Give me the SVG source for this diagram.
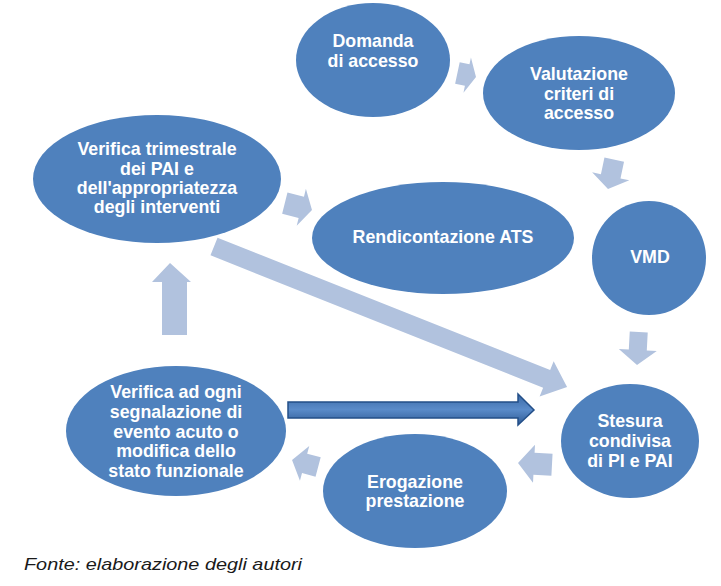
<svg xmlns="http://www.w3.org/2000/svg" width="721" height="586" viewBox="0 0 721 586">
<style>
.node{fill:#4f81bd;}
.lbl{font-family:"Liberation Sans",Arial,sans-serif;font-weight:bold;font-size:17.8px;fill:#ffffff;text-anchor:middle;}
.arr{fill:#b1c2de;}
.cap{font-family:"Liberation Sans",Arial,sans-serif;font-style:italic;font-size:17px;fill:#1a1a1a;}
</style>
<defs>
<linearGradient id="darkg" x1="0" y1="0" x2="0" y2="1">
<stop offset="0" stop-color="#3a69a6"/>
<stop offset="0.5" stop-color="#5a8bc9"/>
<stop offset="1" stop-color="#2f5b95"/>
</linearGradient>
</defs>
<rect width="721" height="586" fill="#ffffff"/>

<g id="connectors">
<polygon class="arr" transform="translate(467.2,75.1) rotate(12)" points="-10,-11 0,-11 0,-18 9,0 0,18 0,11 -10,11"/>
<polygon class="arr" transform="translate(610.7,176.3) rotate(102)" points="-17,-10 0,-10 0,-19 13,0 0,19 0,10 -17,10"/>
<polygon class="arr" transform="translate(637.8,350) rotate(93)" points="-18,-9 0,-9 0,-19 15,0 0,19 0,9 -18,9"/>
<polygon class="arr" transform="translate(534,463.8) rotate(183)" points="-18,-11 0,-11 0,-19 16,0 0,19 0,11 -18,11"/>
<polygon class="arr" transform="translate(304.6,463.4) rotate(195)" points="-14,-10 0,-10 0,-18 13,0 0,18 0,10 -14,10"/>
<polygon class="arr" transform="translate(301.3,207.3) rotate(14)" points="-17,-11 0,-11 0,-19 11,0 0,19 0,11 -17,11"/>
<polygon class="arr" points="162,335 162,282 152,282 170,263 191,282 187,282 187,335"/>
<polygon class="arr" transform="translate(214,246.5) rotate(21.7)" points="0,-9.5 358,-9.5 358,-19 380,0 358,19 358,9.5 0,9.5"/>
<polygon fill="url(#darkg)" stroke="#234f88" stroke-width="1.5" stroke-linejoin="miter" points="288,402 518,402 518,394 534,410 518,425 518,418 288,418"/>
</g>

<g id="n-domanda">
<ellipse class="node" cx="373" cy="60" rx="77" ry="57"/>
<text class="lbl" x="373" y="47">Domanda</text>
<text class="lbl" x="373" y="67">di accesso</text>
</g>
<g id="n-valutazione">
<ellipse class="node" cx="579" cy="93" rx="96" ry="57"/>
<text class="lbl" x="579" y="80">Valutazione</text>
<text class="lbl" x="579" y="100">criteri di</text>
<text class="lbl" x="579" y="119">accesso</text>
</g>
<g id="n-verifica-trimestrale">
<ellipse class="node" cx="157" cy="179" rx="124" ry="64"/>
<text class="lbl" x="157" y="155">Verifica trimestrale</text>
<text class="lbl" x="157" y="175">dei PAI e</text>
<text class="lbl" x="157" y="194">dell'appropriatezza</text>
<text class="lbl" x="157" y="213">degli interventi</text>
</g>
<g id="n-rendicontazione">
<ellipse class="node" cx="443" cy="238" rx="131" ry="56"/>
<text class="lbl" x="443" y="243">Rendicontazione ATS</text>
</g>
<g id="n-vmd">
<ellipse class="node" cx="649" cy="258" rx="57" ry="57"/>
<text class="lbl" x="650" y="263">VMD</text>
</g>
<g id="n-stesura">
<ellipse class="node" cx="630" cy="441" rx="69" ry="57"/>
<text class="lbl" x="630" y="427">Stesura</text>
<text class="lbl" x="630" y="447">condivisa</text>
<text class="lbl" x="630" y="467">di PI e PAI</text>
</g>
<g id="n-erogazione">
<ellipse class="node" cx="415" cy="491" rx="92" ry="57"/>
<text class="lbl" x="415" y="488">Erogazione</text>
<text class="lbl" x="415" y="507">prestazione</text>
</g>
<g id="n-verifica-evento">
<ellipse class="node" cx="176" cy="431" rx="110" ry="65"/>
<text class="lbl" x="176" y="398">Verifica ad ogni</text>
<text class="lbl" x="176" y="418">segnalazione di</text>
<text class="lbl" x="176" y="438">evento acuto o</text>
<text class="lbl" x="176" y="457">modifica dello</text>
<text class="lbl" x="176" y="477">stato funzionale</text>
</g>

<text class="cap" x="24" y="570" textLength="278" lengthAdjust="spacingAndGlyphs">Fonte: elaborazione degli autori</text>
</svg>
